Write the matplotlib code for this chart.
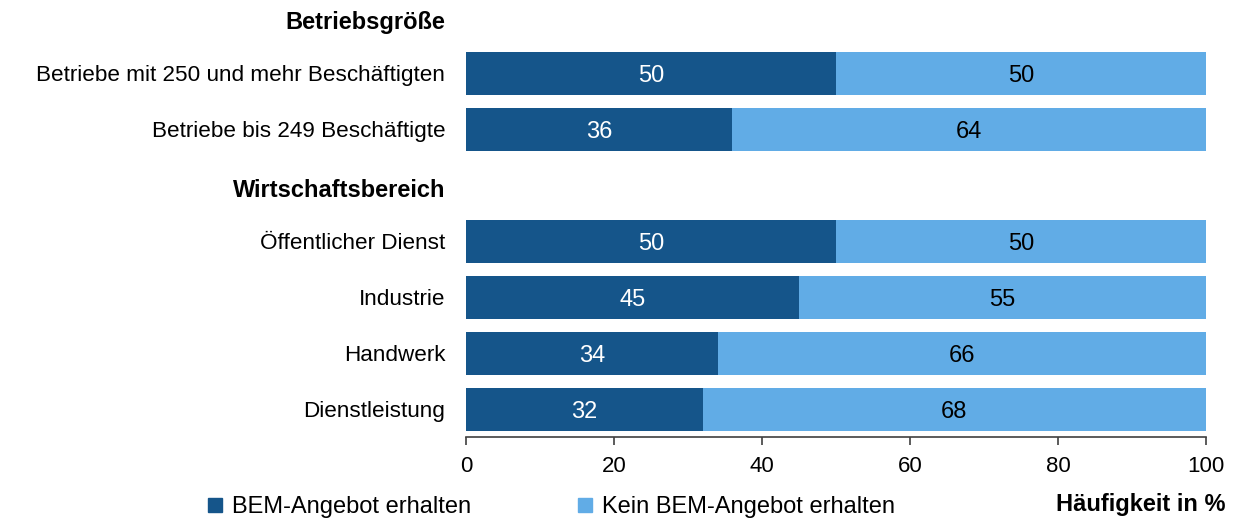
import numpy as np
import matplotlib.pyplot as plt
from matplotlib.lines import Line2D

plt.rcParams['font.family'] = ['Liberation Sans', 'DejaVu Sans']

# rows from top to bottom; None marks a group header row
labels = ['Betriebsgröße', 'Betriebe mit 250 und mehr Beschäftigten',
          'Betriebe bis 249 Beschäftigte', 'Wirtschaftsbereich',
          'Öffentlicher Dienst', 'Industrie', 'Handwerk', 'Dienstleistung']
is_header = [True, False, False, True, False, False, False, False]
bem_yes = [None, 50, 36, None, 50, 45, 34, 32]
bem_no = [None, 50, 64, None, 50, 55, 66, 68]
series_names = ['BEM-Angebot erhalten', 'Kein BEM-Angebot erhalten']
xticks = [0, 20, 40, 60, 80, 100]

dark = '#15558a'
light = '#61ace6'

fig = plt.figure(figsize=(12.36, 5.2), dpi=100)
ax = fig.add_axes([466/1236, 83/520, 740/1236, 437/520])

for i, (a, b) in enumerate(zip(bem_yes, bem_no)):
    if a is None:
        continue
    ax.barh(i, a, height=0.77, color=dark)
    ax.barh(i, b, left=a, height=0.77, color=light)
    ax.text(a/2, i, str(a), ha='center', va='center_baseline', color='white', fontsize=17)
    ax.text(a + b/2, i, str(b), ha='center', va='center_baseline', color='black', fontsize=17)

ax.set_xlim(0, 100)
ax.set_ylim(7.5, -0.314)
ax.set_xticks(xticks)
ax.set_xticklabels([str(t) for t in xticks], fontsize=16)
# header labels sit a touch lower than the row grid
ypos = [i + (0.05 if h else 0) for i, h in enumerate(is_header)]
ax.set_yticks(ypos)
ax.set_yticklabels(labels, fontsize=16.2)
for lab, h in zip(ax.get_yticklabels(), is_header):
    if h:
        lab.set_fontweight('bold')
        lab.set_fontsize(17)
ax.tick_params(axis='y', length=0, pad=15)
ax.tick_params(axis='x', length=6, width=1.2, color='#404040', pad=8)
for s in ['top', 'right', 'left']:
    ax.spines[s].set_visible(False)
ax.spines['bottom'].set_color('#404040')
ax.spines['bottom'].set_linewidth(1.2)

# two single-entry legends, placed at their own x positions
for name, col, x0 in zip(series_names, [dark, light], [206, 576]):
    h = Line2D([], [], marker='s', linestyle='none', markersize=10, color=col)
    fig.legend([h], [name], loc='center left', bbox_to_anchor=(x0/1236, 1 - 507/520),
               frameon=False, fontsize=17, handletextpad=0.3, handlelength=0.8,
               borderpad=0, borderaxespad=0)

fig.text(1226/1236, 1 - 505/520, 'Häufigkeit in %', ha='right', va='center',
         fontsize=17, fontweight='bold')

fig.savefig('out.png', dpi=100)
